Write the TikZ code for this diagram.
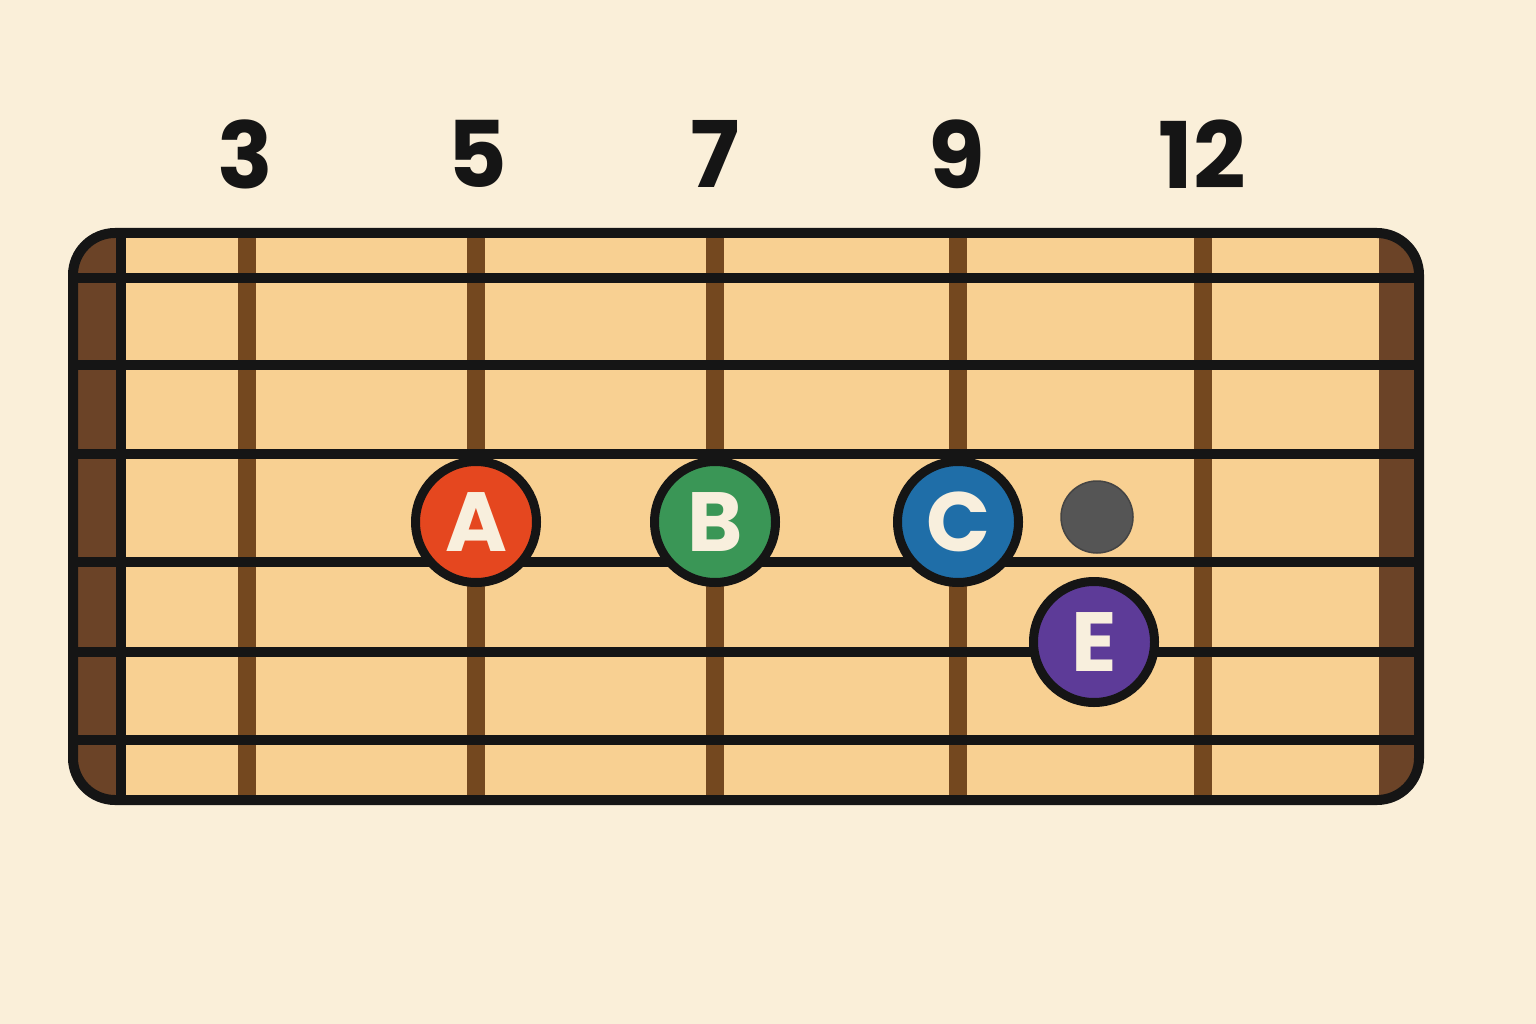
\documentclass[tikz,border=0pt]{standalone}
\usepackage{fontspec}
\setsansfont{Poppins}
\usepackage{tikz}
\usetikzlibrary{positioning}
\definecolor{bgcream}{HTML}{FAEFD9}
\definecolor{boardtan}{HTML}{F8D092}
\definecolor{headbrown}{HTML}{6B4327}
\definecolor{fretbrown}{HTML}{74481F}
\definecolor{inkblack}{HTML}{151515}
\definecolor{notecream}{HTML}{F8EFDD}
\definecolor{noteA}{HTML}{E5471F}
\definecolor{noteB}{HTML}{3A9656}
\definecolor{noteC}{HTML}{1F6EA8}
\definecolor{noteE}{HTML}{5D3B98}
\definecolor{mutedgray}{HTML}{555555}

\begin{document}
\begin{tikzpicture}[x=1pt, y=-1pt,
    fretnum/.style={font=\sffamily\bfseries\fontsize{92}{92}\selectfont, text=inkblack, inner sep=0pt},
    notedot/.style={circle, draw=inkblack, line width=9pt, minimum size=121pt, inner sep=0pt, text=notecream, font=\sffamily\bfseries\fontsize{84}{84}\selectfont},
    stringline/.style={draw=inkblack, line width=10pt},
    boardedge/.style={draw=inkblack, line width=10pt, rounded corners=42pt}
]
\useasboundingbox[fill=bgcream] (0,0) rectangle (1536,1024);

% fretboard
\begin{scope}
\clip[rounded corners=42pt] (73,233) rectangle (1419,800);
\fill[boardtan] (73,233) rectangle (1419,800);
\fill[headbrown] (73,233) rectangle (116,800);
\fill[headbrown] (1379,233) rectangle (1419,800);
\foreach \x in {247,476,715,958,1203}
    \fill[fretbrown] (\x-9,233) rectangle (\x+9,800);
\end{scope}
\foreach \y in {278,365,454,562,652,740}
    \draw[stringline] (73,\y) -- (1419,\y);
\draw[stringline] (121,233) -- (121,800);
\draw[boardedge] (73,233) rectangle (1419,800);

% fret numbers
\node[fretnum] (n3) at (245,154) {3};
\node[fretnum] (n5) at (477,154) {5};
\node[fretnum] (n7) at (715,154) {7};
\node[fretnum] (n9) at (957,154) {9};
\node[fretnum] (n12) at (1202,154) {12};

% notes
\node[notedot, fill=noteA] (a) at (476,522) {A};
\node[notedot, fill=noteB] (b) at (715,522) {B};
\node[notedot, fill=noteC] (c) at (958,522) {C};
\node[notedot, fill=noteE] (e) at (1094,642) {E};
\node[circle, fill=mutedgray, draw=inkblack!80, line width=1.5pt, minimum size=72pt, inner sep=0pt] (muted) at (1097,517) {};
\end{tikzpicture}
\end{document}
